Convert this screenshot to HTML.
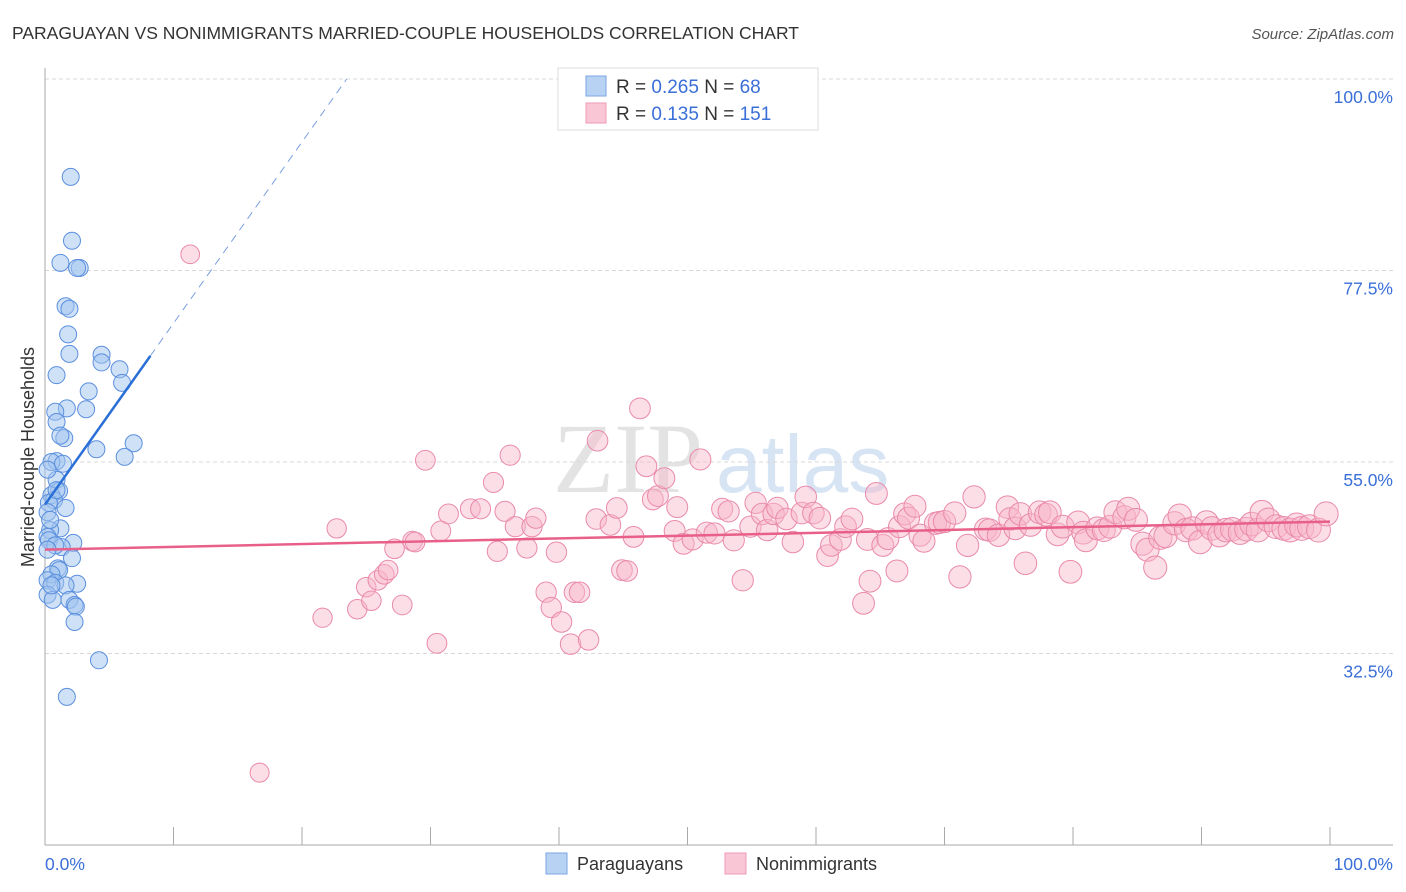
<!DOCTYPE html>
<html><head><meta charset="utf-8"><style>
body{margin:0;background:#fff;font-family:"Liberation Sans",sans-serif;}
svg{display:block}
</style></head><body>
<svg id="chart" width="1406" height="892" xmlns="http://www.w3.org/2000/svg">
<text x="12" y="39" font-size="17.5" fill="#333">PARAGUAYAN VS NONIMMIGRANTS MARRIED-COUPLE HOUSEHOLDS CORRELATION CHART</text>
<text x="1394" y="39" font-size="15" fill="#555" text-anchor="end" font-style="italic">Source: ZipAtlas.com</text>
<g>
<text x="553" y="492" font-family="Liberation Serif,serif" font-size="100" fill="#d8d8d8" opacity="0.7">ZIP</text>
<text x="716" y="492" font-size="82" fill="#bcd3ee" opacity="0.6">atlas</text>
</g>
<g id="grid"></g>
<g id="axes"></g>
<g id="points"></g>
<g id="lines"></g>
<g>
<rect x="558" y="68" width="260" height="62" fill="#fff" stroke="#ddd"/>
<rect x="586" y="76" width="20" height="20" fill="#b8d2f4" stroke="#7aa5e0"/>
<rect x="586" y="103" width="20" height="20" fill="#f9c6d6" stroke="#ee9ab6"/>
<text x="616" y="93" font-size="19" fill="#333">R = <tspan fill="#3a6fd8">0.265</tspan>   N = <tspan fill="#3a6fd8">68</tspan></text>
<text x="616" y="120" font-size="19" fill="#333">R =  <tspan fill="#3a6fd8">0.135</tspan>   N = <tspan fill="#3a6fd8">151</tspan></text>
</g>
<g>
<rect x="546" y="853" width="21" height="21" fill="#b8d2f4" stroke="#7aa5e0"/>
<text x="577" y="870" font-size="18" fill="#333">Paraguayans</text>
<rect x="725" y="853" width="21" height="21" fill="#f9c6d6" stroke="#ee9ab6"/>
<text x="756" y="870" font-size="18" fill="#333">Nonimmigrants</text>
</g>
<text transform="translate(34,457) rotate(-90)" font-size="18" fill="#333" text-anchor="middle">Married-couple Households</text>
</svg>
<script>
const yTicks=[100,77.5,55,32.5];
const yTickLabels=["100.0%","77.5%","55.0%","32.5%"];
const xTicks=[0,10,20,30,40,50,60,70,80,90,100];
const blueX=[2.0,2.1,1.2,2.7,2.5,1.6,1.9,1.8,1.9,4.4,4.4,5.8,6.0,0.9,3.4,1.7,0.8,3.2,0.9,1.5,1.2,6.9,4.0,6.2,0.9,0.5,0.9,1.1,0.5,0.7,1.6,0.3,0.2,1.2,0.4,0.2,0.3,2.2,1.3,2.1,1.0,1.1,0.5,0.2,0.8,2.5,1.6,0.2,0.6,1.9,2.3,2.4,2.3,4.2,1.7,0.4,0.8,0.2,0.5,0.9,1.4,0.2];
const blueY=[88.5,81.0,78.4,77.8,77.8,73.3,73.0,70.0,67.7,67.6,66.7,65.9,64.3,65.2,63.3,61.3,60.9,61.2,59.7,57.8,58.1,57.2,56.5,55.6,55.1,55.0,52.9,51.6,51.1,50.5,49.6,50.2,49.1,47.2,47.0,46.2,45.8,45.5,45.0,43.7,42.5,42.3,41.8,41.1,40.8,40.7,40.5,39.4,38.8,38.8,38.2,38.0,36.2,31.7,27.4,48.2,45.2,44.7,40.5,51.7,54.8,54.1];
const pinkX=[11.3,16.7,21.6,22.7,24.3,25.0,25.4,25.9,26.4,26.7,27.2,27.8,28.6,28.8,29.6,30.5,30.8,31.4,33.1,33.9,34.9,35.2,35.8,36.2,36.6,37.5,37.9,38.2,39.0,39.4,39.8,40.2,40.9,41.2,41.6,42.3,43.0,42.9,44.0,44.5,44.9,45.3,45.8,46.3,46.8,47.3,47.7,48.2,49.0,49.2,49.7,50.4,51.0,51.5,52.1,52.7,53.2,53.6,54.3,54.9,55.3,55.8,56.2,56.7,57.0,57.7,58.2,58.9,59.2,59.8,60.3,60.9,61.2,61.9,62.3,62.8,63.7,64.0,64.2,64.7,65.2,65.6,66.3,66.5,66.9,67.2,67.7,68.1,68.4,69.3,69.6,70.0,70.8,71.2,71.8,72.3,73.2,73.5,74.2,74.9,75.1,75.5,75.9,76.3,76.7,77.4,77.9,78.2,78.8,79.2,79.8,80.4,80.8,81.0,81.9,82.4,82.9,83.3,84.0,84.3,84.9,85.4,85.8,86.4,86.8,87.2,87.9,88.3,88.8,89.3,89.9,90.4,90.8,91.4,91.9,92.4,93.0,93.5,93.9,94.4,94.7,95.2,95.8,96.4,96.9,97.4,97.8,98.4,99.1,99.7];
const pinkY=[79.4,18.5,36.7,47.2,37.7,40.3,38.7,41.1,41.8,42.3,44.8,38.2,45.7,45.6,55.2,33.7,46.9,48.9,49.5,49.5,52.6,44.5,49.2,55.8,47.4,44.9,47.4,48.4,39.7,37.9,44.4,36.2,33.6,39.7,39.7,34.1,57.5,48.3,47.6,49.6,42.3,42.2,46.2,61.3,54.5,50.6,51.0,53.1,46.9,49.7,45.4,45.9,55.3,46.7,46.6,49.5,49.2,45.8,41.1,47.4,50.2,48.9,47.0,48.9,49.6,48.3,45.6,49.0,50.9,49.0,48.4,44.0,45.2,45.9,47.4,48.3,38.4,45.9,41.0,51.3,45.2,46.0,42.2,47.4,48.9,48.4,49.8,46.4,45.7,47.8,47.9,48.0,49.0,41.5,45.2,50.9,47.1,47.0,46.4,49.7,48.3,47.2,48.9,43.1,47.6,49.1,48.8,49.1,46.5,47.4,42.1,47.9,46.7,45.8,47.2,47.0,47.4,49.1,48.5,49.5,48.2,45.4,44.7,42.6,46.1,46.3,47.8,48.7,47.0,47.2,45.6,47.9,47.2,46.4,47.0,47.1,46.7,47.1,47.7,47.0,49.1,48.2,47.4,47.2,47.0,47.6,47.2,47.4,47.0,48.9];
const blueTrend=[50.0,2.13];
const pinkTrend=[44.7,48.0];

const NS="http://www.w3.org/2000/svg";
const X0=45,X1=1330,YTOP=79,PX=8.511;
function sx(v){return X0+(X1-X0)*v/100;}
function sy(v){return YTOP+(100-v)*PX;}
function mk(tag,attrs,parent){const e=document.createElementNS(NS,tag);for(const k in attrs)e.setAttribute(k,attrs[k]);parent.appendChild(e);return e;}
const grid=document.getElementById('grid'),axes=document.getElementById('axes'),pts=document.getElementById('points'),lines=document.getElementById('lines');
yTicks.forEach((t,i)=>{
 const l=mk('line',{x1:45,x2:1393,y1:sy(t),y2:sy(t),stroke:'#d8d8d8','stroke-dasharray':'4,3'},grid);
 
 
 const tx=mk('text',{x:1393,y:sy(t)+24,'font-size':17.5,fill:'#3a6fd8','text-anchor':'end'},axes);
 tx.textContent=yTickLabels[i];
 
 
});
const ax=mk('line',{x1:45,x2:45,y1:68,y2:845,stroke:'#aaa'},axes);


const bx=mk('line',{x1:45,x2:1393,y1:845,y2:845,stroke:'#aaa'},axes);


xTicks.forEach(t=>{
 const l=mk('line',{x1:sx(t),x2:sx(t),y1:827,y2:845,stroke:'#aaa'},axes);
 
 
});
const xl0=mk('text',{x:45,y:870,'font-size':17.5,fill:'#3a6fd8'},axes);xl0.textContent='0.0%';


const xl1=mk('text',{x:1393,y:870,'font-size':17.5,fill:'#3a6fd8','text-anchor':'end'},axes);xl1.textContent='100.0%';


pinkX.forEach((v,i)=>{
 const c=mk('circle',{cx:sx(v),cy:sy(pinkY[i]),r:9+3*v/100,fill:'rgba(248,182,202,0.45)',stroke:'#e98aab','stroke-width':1},pts);
 
 
});
blueX.forEach((v,i)=>{
 const c=mk('circle',{cx:sx(v),cy:sy(blueY[i]),r:8.5,fill:'rgba(160,196,240,0.5)',stroke:'#5b8fde','stroke-width':1},pts);
 
 
});
const bEnd=8.2, bDash=(100-blueTrend[0])/blueTrend[1];
const bl=mk('line',{x1:sx(0),y1:sy(blueTrend[0]),x2:sx(bEnd),y2:sy(blueTrend[0]+blueTrend[1]*bEnd),stroke:'#2a6fd6','stroke-width':2.5},lines);


const bd=mk('line',{x1:sx(bEnd),y1:sy(blueTrend[0]+blueTrend[1]*bEnd),x2:sx(bDash),y2:sy(100),stroke:'#7a9fe0','stroke-width':1,'stroke-dasharray':'8,6'},lines);


const pl=mk('line',{x1:sx(0),y1:sy(pinkTrend[0]),x2:sx(100),y2:sy(pinkTrend[1]),stroke:'#e8608a','stroke-width':2.5},lines);


</script>
</body></html>
